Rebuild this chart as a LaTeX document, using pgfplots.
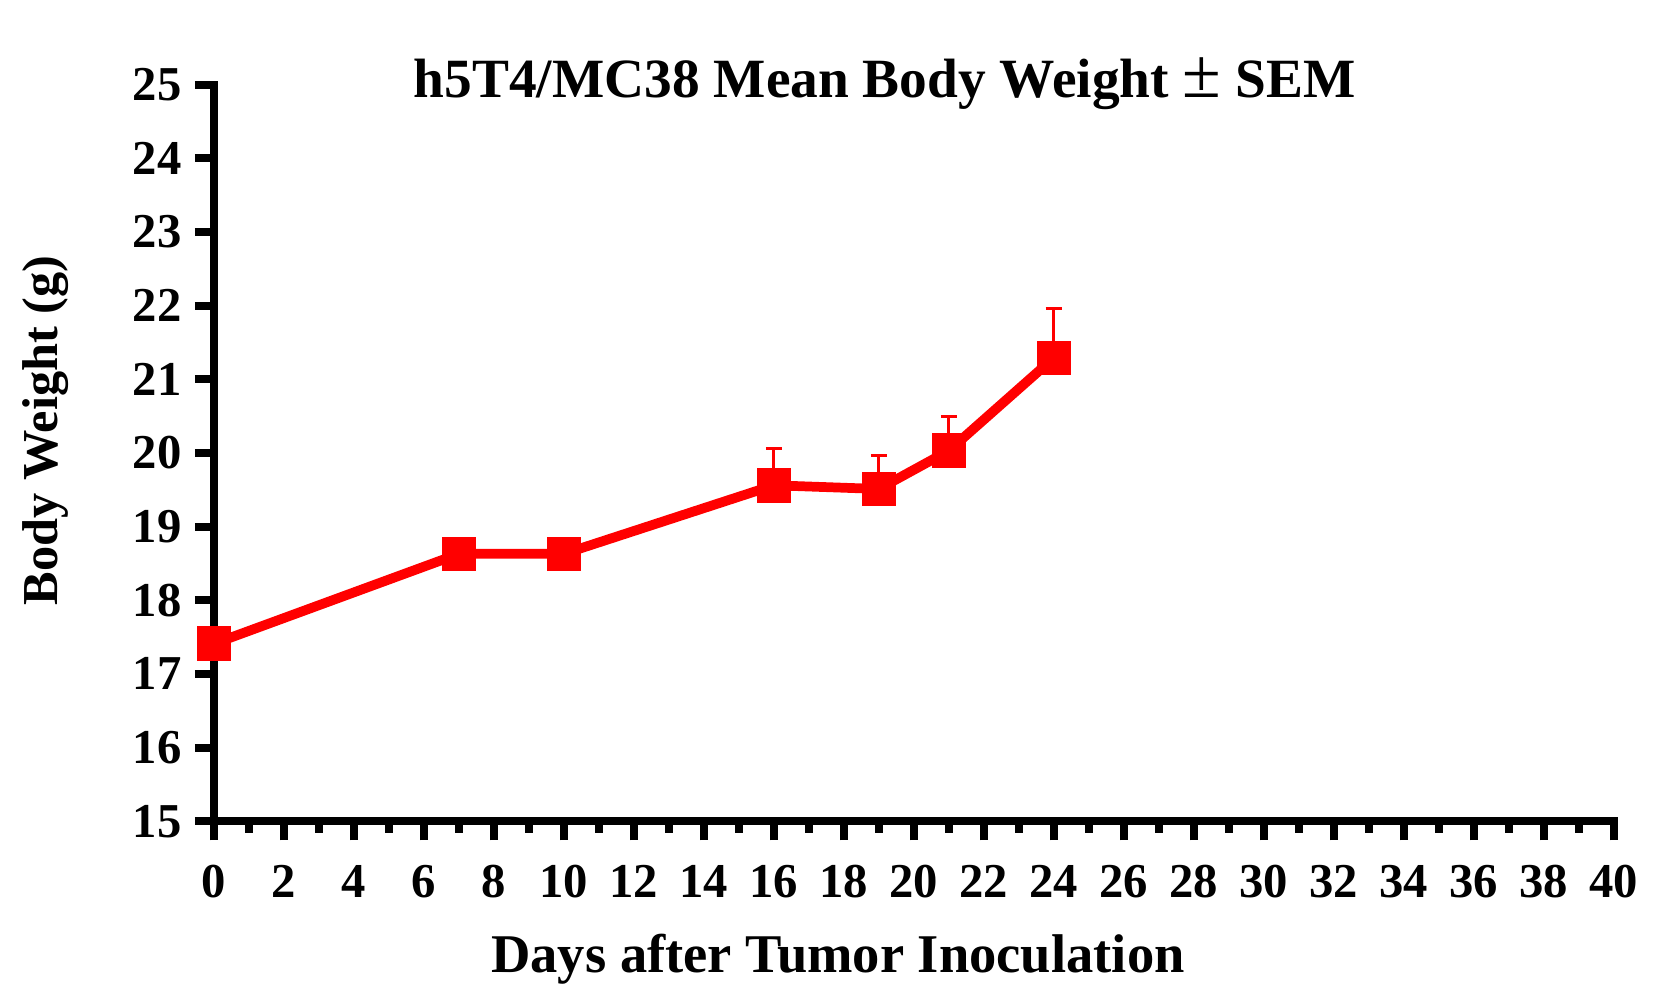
\documentclass[border=0pt]{standalone}
\usepackage{fontspec}
\setmainfont{Liberation Serif}
\usepackage{pgfplots}
\pgfplotsset{compat=1.18}
\pgfplotstableread{
x y e
0 17.41 0
7 18.63 0
10 18.63 0.2
16 19.56 0.5
19 19.51 0.46
21 20.03 0.46
24 21.29 0.67
}\bw
\begin{document}
\begin{tikzpicture}
\useasboundingbox (0,0) rectangle (500pt,296.2pt);
\begin{axis}[
  at={(63.8pt,51.5pt)}, anchor=south west,
  scale only axis, width=417pt, height=219.5pt,
  xmin=0, xmax=40, ymin=15, ymax=25,
  axis lines*=left,
  axis line style={line width=2.4pt, line cap=rect},
  xtick={0,2,...,40}, ytick={15,16,...,25},
  minor x tick num=1,
  tick align=outside,
  major tick length=5.7pt, minor tick length=3.5pt,
  every tick/.style={black, line width=2.4pt},
  tick label style={font=\bfseries\fontsize{14.5}{14.5}\selectfont},
  xticklabel style={yshift=-4pt},
  yticklabel style={xshift=-0.5pt},
  /pgf/number format/assume math mode=true,
  clip=false,
]
\addplot[red, line width=2.9pt, mark=square*, mark size=5pt,
  mark options={solid, line width=0pt},
  error bars/.cd, y dir=plus, y explicit,
  error bar style={line width=0.9pt, red},
  error mark options={line width=0.9pt, mark size=2.4pt, rotate=90, red}]
  table[x=x, y=y, y error=e] {\bw};
\end{axis}
\node[anchor=base, font=\bfseries\fontsize{16.5}{16.5}\selectfont] at (263.6pt,267.1pt) {h5T4/MC38 Mean Body Weight {\mdseries\fontsize{21}{21}\selectfont ±} SEM};
\node[anchor=base, font=\bfseries\fontsize{16.25}{16.25}\selectfont] at (249.7pt,6.5pt) {Days after Tumor Inoculation};
\node[rotate=90, font=\bfseries\fontsize{15}{15}\selectfont] at (13.5pt,167.9pt) {Body Weight (g)};
\end{tikzpicture}
\end{document}
